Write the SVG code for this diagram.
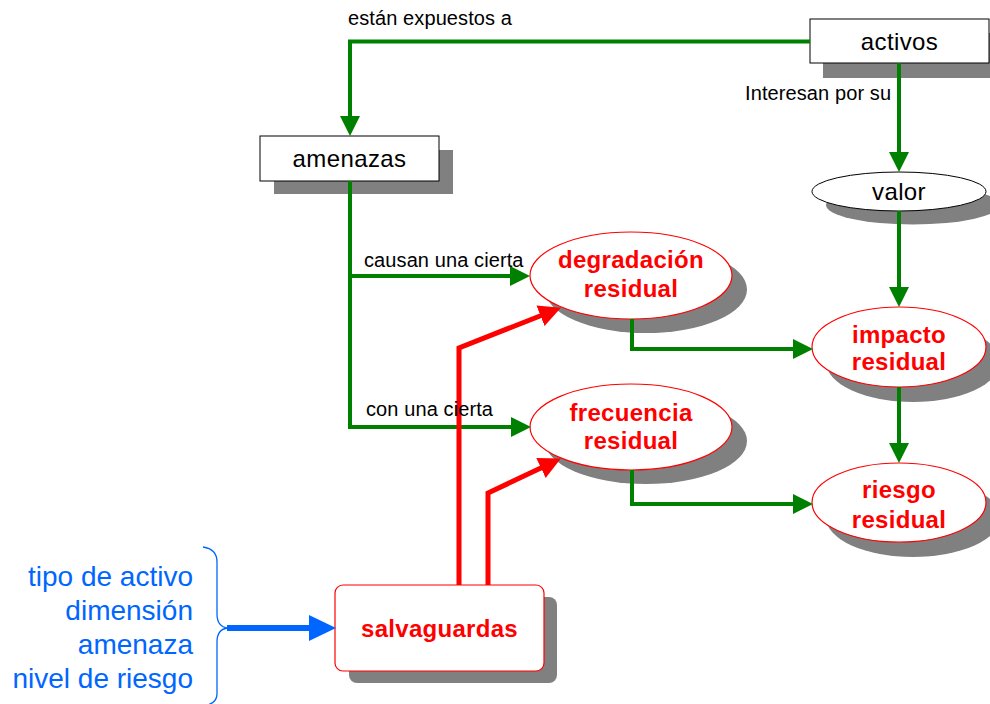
<svg xmlns="http://www.w3.org/2000/svg" width="990" height="704" viewBox="0 0 990 704">
<defs>
<style>
.shadow{fill:#808080;stroke:none}
.box{fill:#fff;stroke:#000;stroke-width:1}
.rnode{fill:#fff;stroke:#ff0000;stroke-width:1.2}
.t{font-family:"Liberation Sans",Arial,sans-serif;font-size:24px;fill:#000;text-anchor:middle;letter-spacing:0.4px}
.rt{font-family:"Liberation Sans",Arial,sans-serif;font-size:24px;font-weight:bold;fill:#ff0000;text-anchor:middle;letter-spacing:0.3px}
.lbl{font-family:"Liberation Sans",Arial,sans-serif;font-size:20px;fill:#000;letter-spacing:0.1px}
.blue{font-family:"Liberation Sans",Arial,sans-serif;font-size:28px;fill:#0066ff;text-anchor:end}
.g{fill:none;stroke:#008000;stroke-width:4}
.r{fill:none;stroke:#ff0000;stroke-width:5}
</style>
<marker id="ag" markerUnits="userSpaceOnUse" markerWidth="20" markerHeight="20" refX="10" refY="10" orient="auto" viewBox="0 0 20 20"><path d="M0,0 L20,10 L0,20 z" fill="#008000"/></marker>
<marker id="ar" markerUnits="userSpaceOnUse" markerWidth="22" markerHeight="22" refX="11" refY="11" orient="auto" viewBox="0 0 22 22"><path d="M0,0 L22,11 L0,22 z" fill="#ff0000"/></marker>
<marker id="ab" markerUnits="userSpaceOnUse" markerWidth="27" markerHeight="26" refX="13" refY="13" orient="auto" viewBox="0 0 27 26"><path d="M0,0 L27,13 L0,26 z" fill="#0066ff"/></marker>
</defs>

<g id="activos">
<rect class="shadow" x="823" y="33" width="180" height="45"/>
<rect class="box" x="810" y="19" width="179" height="44"/>
<text class="t" x="899.5" y="50">activos</text>
</g>

<g id="amenazas">
<rect class="shadow" x="274" y="150" width="179" height="44"/>
<rect class="box" x="260" y="136" width="179" height="45"/>
<text class="t" x="349.5" y="167">amenazas</text>
</g>

<g id="valor">
<ellipse class="shadow" cx="913" cy="205" rx="87" ry="19.5"/>
<ellipse cx="899" cy="191.5" rx="87" ry="19.5" fill="#fff" stroke="#000" stroke-width="1"/>
<text class="t" x="899" y="200">valor</text>
</g>

<g id="degradacion">
<ellipse class="shadow" cx="646" cy="289.5" rx="101" ry="43.5"/>
<ellipse class="rnode" cx="631" cy="275.5" rx="101" ry="43.5"/>
<text class="rt" x="631" y="268">degradación</text>
<text class="rt" x="631" y="297">residual</text>
</g>

<g id="frecuencia">
<ellipse class="shadow" cx="646" cy="441" rx="101" ry="43"/>
<ellipse class="rnode" cx="631" cy="427" rx="101" ry="43"/>
<text class="rt" x="631" y="421">frecuencia</text>
<text class="rt" x="631" y="449">residual</text>
</g>

<g id="impacto">
<ellipse class="shadow" cx="913" cy="362" rx="87" ry="40"/>
<ellipse class="rnode" cx="899" cy="347" rx="87" ry="40"/>
<text class="rt" x="899" y="343">impacto</text>
<text class="rt" x="899" y="370">residual</text>
</g>

<g id="riesgo">
<ellipse class="shadow" cx="913" cy="517.5" rx="87" ry="39.5"/>
<ellipse class="rnode" cx="899" cy="502.5" rx="87" ry="39.5"/>
<text class="rt" x="899" y="498">riesgo</text>
<text class="rt" x="899" y="528">residual</text>
</g>

<g id="salvaguardas">
<rect class="shadow" x="349" y="597" width="208" height="86" rx="8"/>
<rect class="rnode" x="335" y="585" width="209" height="86" rx="8"/>
<text class="rt" x="439.5" y="637">salvaguardas</text>
</g>

<g id="criterios">
<text class="blue" x="193" y="586">tipo de activo</text>
<text class="blue" x="193" y="620">dimensión</text>
<text class="blue" x="193" y="654">amenaza</text>
<text class="blue" x="193" y="688">nivel de riesgo</text>
</g>

<g id="connectors">
<path class="g" d="M810,41.5 H350 V126" marker-end="url(#ag)"/>
<path class="g" d="M899,63 V162" marker-end="url(#ag)"/>
<path class="g" d="M899,211 V297" marker-end="url(#ag)"/>
<path class="g" d="M899,387 V453" marker-end="url(#ag)"/>
<path class="g" d="M350,181 V427 H521"/>
<path class="g" d="M350,276 H520" marker-end="url(#ag)"/>
<path class="g" d="M350,427 H521" marker-end="url(#ag)"/>
<path class="g" d="M632,319 V349 H803" marker-end="url(#ag)"/>
<path class="g" d="M632,470 V504 H803" marker-end="url(#ag)"/>
<path class="r" d="M459,585 V348 L550.7,311.7" marker-end="url(#ar)"/>
<path class="r" d="M488,585 V493 L550.9,463.3" marker-end="url(#ar)"/>
<path d="M227,628 H322" fill="none" stroke="#0066ff" stroke-width="6" marker-end="url(#ab)"/>
<path d="M203,547 Q217,549 217,562 V614 Q217,627 228,628 Q217,629 217,642 V694 Q217,704 203,706" fill="none" stroke="#0066ff" stroke-width="1.3"/>
<text class="lbl" x="348" y="25">están expuestos a</text>
<text class="lbl" x="745" y="100">Interesan por su</text>
<text class="lbl" x="364" y="267">causan una cierta</text>
<text class="lbl" x="366" y="416">con una cierta</text>
</g>
</svg>
